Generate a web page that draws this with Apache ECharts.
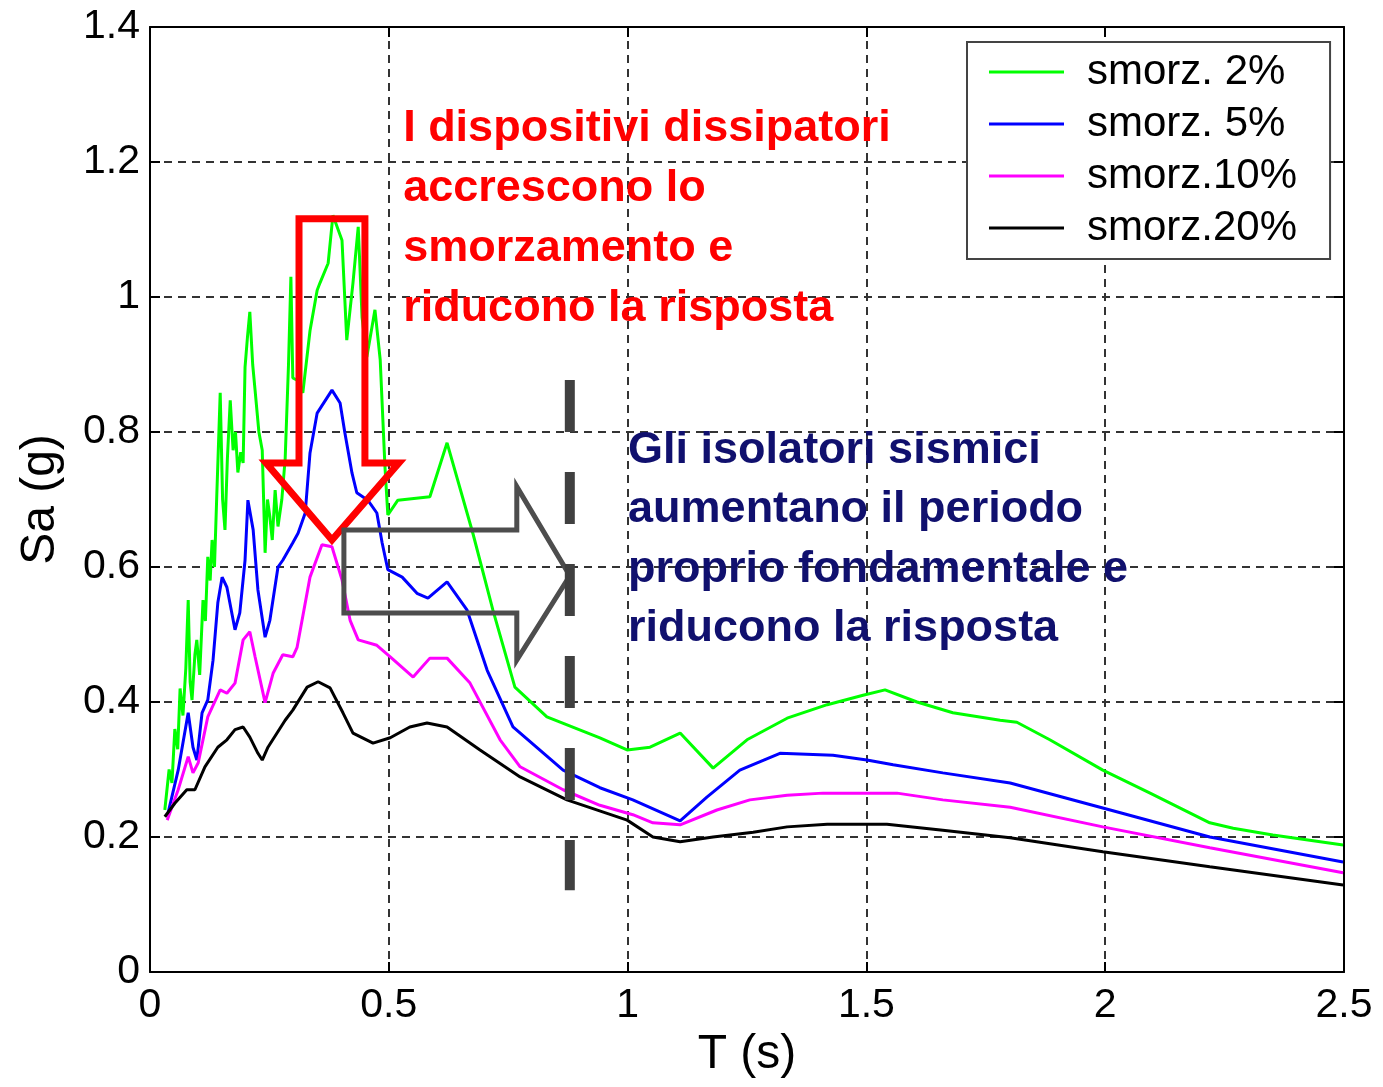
<!DOCTYPE html>
<html>
<head>
<meta charset="utf-8">
<script src="https://cdn.jsdelivr.net/npm/echarts@6/dist/echarts.min.js"></script>
<style>
html,body{margin:0;padding:0;background:#fff;}
#chart{width:1383px;height:1087px;}
</style>
</head>
<body>
<div id="chart"></div>
<script>
// Axis ranges
const xAxisRange = {min: 0, max: 2.5, interval: 0.5};
const yAxisRange = {min: 0, max: 1.4, interval: 0.2};

// Series names
const seriesNames = ['smorz. 2%', 'smorz. 5%', 'smorz.10%', 'smorz.20%'];
const seriesColors = ['#00ff00', '#0000ff', '#ff00ff', '#000000'];

// [T (s), Sa (g)]
const smorz2 = [
  [0.031,0.240],[0.040,0.300],[0.046,0.280],[0.052,0.360],[0.058,0.330],[0.063,0.420],[0.069,0.380],
  [0.075,0.450],[0.080,0.551],[0.084,0.430],[0.088,0.403],[0.094,0.470],[0.098,0.492],[0.104,0.440],
  [0.111,0.551],[0.116,0.520],[0.121,0.615],[0.126,0.580],[0.130,0.640],[0.135,0.600],[0.140,0.710],
  [0.147,0.858],[0.152,0.700],[0.157,0.655],[0.162,0.760],[0.168,0.847],[0.174,0.773],[0.179,0.800],
  [0.184,0.740],[0.190,0.770],[0.195,0.754],[0.199,0.896],[0.204,0.940],[0.209,0.978],[0.215,0.900],
  [0.220,0.862],[0.228,0.800],[0.235,0.773],[0.241,0.621],[0.246,0.700],[0.251,0.674],[0.256,0.640],
  [0.262,0.714],[0.268,0.660],[0.276,0.700],[0.283,0.760],[0.290,0.900],[0.295,1.030],[0.299,0.880],
  [0.308,0.877],[0.320,0.858],[0.335,0.950],[0.350,1.010],[0.356,1.021],[0.373,1.050],[0.383,1.121],
  [0.402,1.084],[0.412,0.936],[0.425,1.021],[0.436,1.104],[0.444,0.970],[0.454,0.911],[0.471,0.981],
  [0.482,0.907],[0.492,0.748],[0.498,0.677],[0.519,0.699],[0.586,0.704],[0.622,0.784],[0.676,0.650],
  [0.718,0.536],[0.764,0.422],[0.831,0.378],[0.942,0.347],[0.999,0.329],[1.047,0.333],[1.110,0.354],
  [1.179,0.302],[1.250,0.344],[1.334,0.376],[1.418,0.396],[1.493,0.410],[1.539,0.418],[1.606,0.400],
  [1.681,0.384],[1.780,0.373],[1.815,0.370],[1.884,0.344],[1.995,0.299],[2.094,0.265],[2.219,0.221],
  [2.268,0.213],[2.351,0.203],[2.498,0.188]
];
const smorz5 = [
  [0.038,0.236],[0.059,0.299],[0.080,0.384],[0.090,0.333],[0.098,0.314],[0.109,0.384],[0.121,0.403],
  [0.132,0.462],[0.142,0.547],[0.151,0.585],[0.161,0.570],[0.178,0.507],[0.188,0.532],[0.199,0.610],
  [0.205,0.699],[0.216,0.655],[0.226,0.566],[0.241,0.496],[0.251,0.521],[0.268,0.600],[0.278,0.610],
  [0.299,0.636],[0.310,0.650],[0.325,0.680],[0.335,0.769],[0.350,0.828],[0.381,0.862],[0.398,0.843],
  [0.408,0.799],[0.423,0.739],[0.433,0.710],[0.456,0.699],[0.475,0.680],[0.486,0.636],[0.498,0.596],
  [0.528,0.585],[0.559,0.561],[0.582,0.554],[0.622,0.578],[0.664,0.536],[0.706,0.447],[0.760,0.363],
  [0.865,0.299],[0.942,0.273],[1.011,0.255],[1.110,0.224],[1.166,0.259],[1.235,0.299],[1.319,0.324],
  [1.430,0.321],[1.501,0.314],[1.556,0.307],[1.660,0.295],[1.801,0.280],[1.995,0.243],[2.219,0.200],
  [2.498,0.163]
];
const smorz10 = [
  [0.036,0.225],[0.059,0.270],[0.080,0.319],[0.090,0.295],[0.101,0.310],[0.121,0.378],[0.147,0.418],
  [0.161,0.413],[0.178,0.428],[0.195,0.492],[0.209,0.504],[0.220,0.467],[0.241,0.399],[0.258,0.443],
  [0.278,0.470],[0.299,0.467],[0.308,0.481],[0.335,0.585],[0.360,0.633],[0.381,0.630],[0.402,0.581],
  [0.419,0.521],[0.436,0.492],[0.475,0.484],[0.503,0.467],[0.551,0.437],[0.586,0.465],[0.622,0.465],
  [0.670,0.428],[0.733,0.344],[0.775,0.304],[0.865,0.270],[0.942,0.247],[1.011,0.233],[1.053,0.221],
  [1.110,0.218],[1.187,0.240],[1.256,0.255],[1.334,0.262],[1.409,0.265],[1.564,0.265],[1.660,0.255],
  [1.801,0.244],[1.995,0.215],[2.219,0.184],[2.498,0.147]
];
const smorz20 = [
  [0.031,0.230],[0.052,0.250],[0.077,0.270],[0.094,0.270],[0.115,0.304],[0.142,0.333],[0.161,0.344],
  [0.178,0.359],[0.195,0.363],[0.209,0.348],[0.226,0.324],[0.235,0.314],[0.247,0.333],[0.283,0.373],
  [0.299,0.388],[0.329,0.422],[0.352,0.430],[0.377,0.421],[0.404,0.384],[0.425,0.354],[0.467,0.339],
  [0.503,0.347],[0.544,0.363],[0.580,0.369],[0.622,0.363],[0.691,0.329],[0.775,0.289],[0.873,0.255],
  [0.999,0.225],[1.053,0.200],[1.110,0.193],[1.179,0.200],[1.263,0.207],[1.334,0.215],[1.418,0.219],
  [1.543,0.219],[1.660,0.210],[1.801,0.199],[1.995,0.178],[2.219,0.156],[2.498,0.129]
];

// Annotation texts
const redText = ['I dispositivi dissipatori', 'accrescono lo', 'smorzamento e', 'riducono la risposta'];
const blueText = ['Gli isolatori sismici', 'aumentano il periodo', 'proprio fondamentale e', 'riducono la risposta'];

// Annotation shapes in data units [T, Sa]
const redArrow = [[0.312,1.116],[0.450,1.116],[0.450,0.754],[0.521,0.754],[0.381,0.640],[0.243,0.754],[0.312,0.754]];
const grayArrow = [[0.406,0.655],[0.768,0.655],[0.768,0.719],[0.879,0.587],[0.768,0.462],[0.768,0.532],[0.406,0.532]];
const dashedLine = [[0.879,0.877],[0.879,0.121]];
const redTextAnchor = [0.530, 1.249];   // left, first line center
const blueTextAnchor = [1.001, 0.773];

const FONT = "'Liberation Sans', Arial, sans-serif";
const chart = echarts.init(document.getElementById('chart'), null, {renderer: 'canvas'});

const allData = [smorz2, smorz5, smorz10, smorz20];
const series = allData.map((d, i) => ({
  name: seriesNames[i],
  type: 'line',
  data: d,
  symbol: 'none',
  showSymbol: false,
  lineStyle: {color: seriesColors[i], width: 3},
  itemStyle: {color: seriesColors[i]},
  z: 2 + i,
  animation: false
}));

const gridDash = {color: '#333', type: [8, 6], width: 2};

chart.setOption({
  animation: false,
  backgroundColor: '#fff',
  grid: {left: 150, right: 39, top: 27, bottom: 115, containLabel: false},
  legend: {
    orient: 'vertical',
    left: 967, top: 42,
    data: seriesNames.map(n => ({name: n, icon: 'rect'})),
    itemWidth: 75, itemHeight: 3, itemGap: 10,
    padding: [9, 33, 10, 22],
    backgroundColor: '#fff',
    borderColor: '#444', borderWidth: 2,
    textStyle: {fontFamily: FONT, fontSize: 42, color: '#000', lineHeight: 42, padding: [0, 0, 0, 18]},
    z: 20
  },
  xAxis: [{
    type: 'value', min: xAxisRange.min, max: xAxisRange.max, interval: xAxisRange.interval,
    name: 'T (s)', nameLocation: 'middle', nameGap: 58,
    nameTextStyle: {fontFamily: FONT, fontSize: 48, color: '#000'},
    axisLine: {show: true, onZero: false, lineStyle: {color: '#000', width: 2}},
    axisTick: {show: true, inside: true, length: 10, lineStyle: {color: '#000', width: 2}},
    axisLabel: {fontFamily: FONT, fontSize: 41, color: '#000', margin: 13},
    splitLine: {show: true, lineStyle: gridDash}
  }, {
    type: 'value', position: 'top', min: xAxisRange.min, max: xAxisRange.max, interval: xAxisRange.interval,
    axisLine: {show: true, onZero: false, lineStyle: {color: '#000', width: 2}},
    axisTick: {show: true, inside: true, length: 10, lineStyle: {color: '#000', width: 2}},
    axisLabel: {show: false}, splitLine: {show: false}
  }],
  yAxis: [{
    type: 'value', min: yAxisRange.min, max: yAxisRange.max, interval: yAxisRange.interval,
    name: 'Sa (g)', nameLocation: 'middle', nameGap: 85,
    nameTextStyle: {fontFamily: FONT, fontSize: 48, color: '#000'},
    axisLine: {show: true, onZero: false, lineStyle: {color: '#000', width: 2}},
    axisTick: {show: true, inside: true, length: 10, lineStyle: {color: '#000', width: 2}},
    axisLabel: {fontFamily: FONT, fontSize: 41, color: '#000', margin: 10},
    splitLine: {show: true, lineStyle: gridDash}
  }, {
    type: 'value', position: 'right', min: yAxisRange.min, max: yAxisRange.max, interval: yAxisRange.interval,
    axisLine: {show: true, onZero: false, lineStyle: {color: '#000', width: 2}},
    axisTick: {show: true, inside: true, length: 10, lineStyle: {color: '#000', width: 2}},
    axisLabel: {show: false}, splitLine: {show: false}
  }],
  series: series
});

const toPx = p => chart.convertToPixel({xAxisIndex: 0, yAxisIndex: 0}, p);
const graphics = [];
graphics.push({
  type: 'polygon', z: 30, silent: true,
  shape: {points: redArrow.map(toPx)},
  style: {fill: 'none', stroke: '#ff0000', lineWidth: 7, lineJoin: 'miter'}
});
graphics.push({
  type: 'polygon', z: 30, silent: true,
  shape: {points: grayArrow.map(toPx)},
  style: {fill: 'none', stroke: '#4d4d4d', lineWidth: 5, lineJoin: 'miter'}
});
const d0 = toPx(dashedLine[0]), d1 = toPx(dashedLine[1]);
graphics.push({
  type: 'line', z: 30, silent: true,
  shape: {x1: d0[0], y1: d0[1], x2: d1[0], y2: d1[1]},
  style: {stroke: '#404040', lineWidth: 10, lineDash: [52, 40]}
});
const ra = toPx(redTextAnchor);
redText.forEach((t, i) => graphics.push({
  type: 'text', z: 31, silent: true, x: ra[0], y: ra[1] + i * 60,
  style: {text: t, font: "bold 45px " + FONT, fill: '#ff0000', align: 'left', verticalAlign: 'middle'}
}));
const ba = toPx(blueTextAnchor);
blueText.forEach((t, i) => graphics.push({
  type: 'text', z: 31, silent: true, x: ba[0], y: ba[1] + i * 59.5,
  style: {text: t, font: "bold 45px " + FONT, fill: '#10106e', align: 'left', verticalAlign: 'middle'}
}));
chart.setOption({graphic: graphics});
</script>
</body>
</html>
